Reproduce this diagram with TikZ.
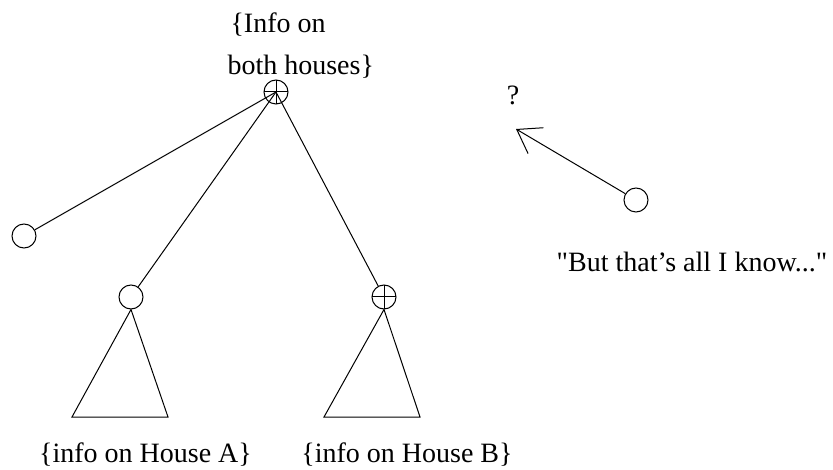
\documentclass[tikz,border=0pt]{standalone}
\usepackage{fontspec}
\setmainfont{Liberation Serif}[Ligatures=TeXOff]
\usetikzlibrary{arrows.meta}
\begin{document}
\begin{tikzpicture}[x=1pt,y=1pt,line width=1pt,
  leaf/.style={circle,draw,minimum size=24pt,inner sep=0pt},
  opl/.style={leaf,path picture={\draw (path picture bounding box.north) -- (path picture bounding box.south) (path picture bounding box.west) -- (path picture bounding box.east);}},
  lbl/.style={inner sep=0pt,font=\fontsize{28}{34}\selectfont},
  barb/.style={-{Straight Barb[length=22pt,width=30pt]}}]
\useasboundingbox (0,0) rectangle (833,-470);
% nodes
\node[opl]  (top) at (276,-92) {};
\node[leaf] (L)   at (24,-236) {};
\node[leaf] (A)   at (131,-297) {};
\node[opl]  (B)   at (384,-297) {};
\node[leaf] (R)   at (636,-200) {};
\coordinate (Q) at (516,-129);
\coordinate (A1) at (72,-417);
\coordinate (A2) at (168,-417);
\coordinate (B1) at (324,-417);
\coordinate (B2) at (420,-417);
% edges
\draw (top.center) -- (L);
\draw (top.center) -- (A);
\draw (top.center) -- (B);
\draw (A1) -- (A.south) -- (A2) -- cycle;
\draw (B1) -- (B.south) -- (B2) -- cycle;
\draw[barb] (R) -- (Q);
% labels
\node[lbl,anchor=base west] (t1) at (230,-33) {\{Info on};
\node[lbl,anchor=base west] (t2) at (227,-75) {both houses\}};
\node[lbl,anchor=base] (qm) at (513,-105) {?};
\node[lbl,anchor=base] (know) at (692,-272) {"But that’s all I know..."};
\node[lbl,anchor=base] (ha) at (145.5,-462) {\{info on House A\}};
\node[lbl,anchor=base] (hb) at (407,-462) {\{info on House B\}};
\end{tikzpicture}
\end{document}
